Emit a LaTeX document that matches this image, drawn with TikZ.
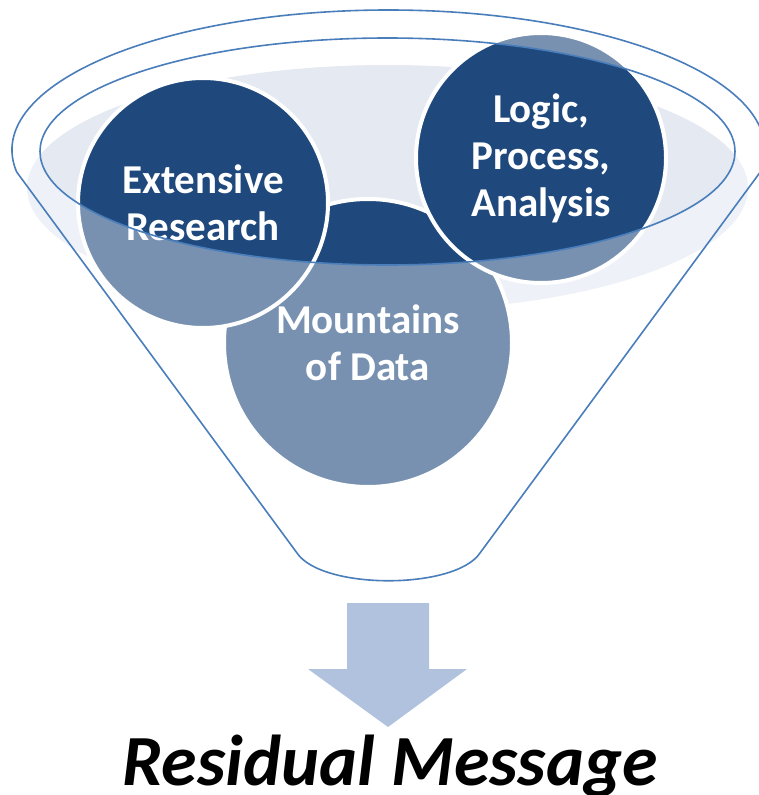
\documentclass[tikz,border=0pt]{standalone}
\usepackage{fontspec}
\setmainfont{Carlito}
\definecolor{navy}{HTML}{1F497D}
\definecolor{graybg}{HTML}{E4E9F2}
\definecolor{funnelline}{HTML}{4A7EBB}
\definecolor{arrowblue}{HTML}{B0C2DE}
\tikzset{
  bubble/.style={fill=navy, draw=white, line width=4pt},
  bubbletext/.style={text=white, align=center, font=\fontsize{41}{47}\selectfont\bfseries},
  funnelstroke/.style={draw=funnelline, line width=1.6pt, line join=round},
}
\begin{document}
\begin{tikzpicture}[x=1pt, y=-1pt]
\useasboundingbox (0,0) rectangle (759,795);
% back disc of the funnel
\fill[graybg] (387.5,188) ellipse [x radius=360.5pt, y radius=123pt];
% bubbles
\path[bubble] (368,343) circle [radius=144pt];
\path[bubble] (203,203) circle [radius=125pt];
\path[bubble] (541,158) circle [radius=125pt];
% white veil outside the funnel mouth
\fill[white, opacity=0.4, even odd rule] (0,0) rectangle (759,600)
  (387.5,151.5) ellipse [x radius=347.5pt, y radius=113.5pt];
% texts
\node[bubbletext] (data) at (368,343) {Mountains\\of Data};
\node[bubbletext] (research) at (203,203) {Extensive\\Research};
\node[bubbletext] (logic) at (541,158) {Logic,\\Process,\\Analysis};
% funnel outlines
\draw[funnelstroke] (388.5,150) ++(189:376.5pt and 140pt) coordinate (lc)
  arc[start angle=189, end angle=-9, x radius=376.5pt, y radius=140pt] coordinate (rc)
  -- (480,553) .. controls (455,590) and (322,590) .. (297,553) -- cycle;
\draw[funnelstroke] (387.5,151.5) ellipse [x radius=347.5pt, y radius=113.5pt];
% arrow
\fill[arrowblue] (347,603) -- (429,603) -- (429,669) -- (467,669) -- (388,727)
  -- (308,669) -- (347,669) -- cycle;
\node[anchor=base, font=\fontsize{72}{80}\selectfont\bfseries\itshape] (msg) at (390,785) {Residual Message};
\end{tikzpicture}
\end{document}
